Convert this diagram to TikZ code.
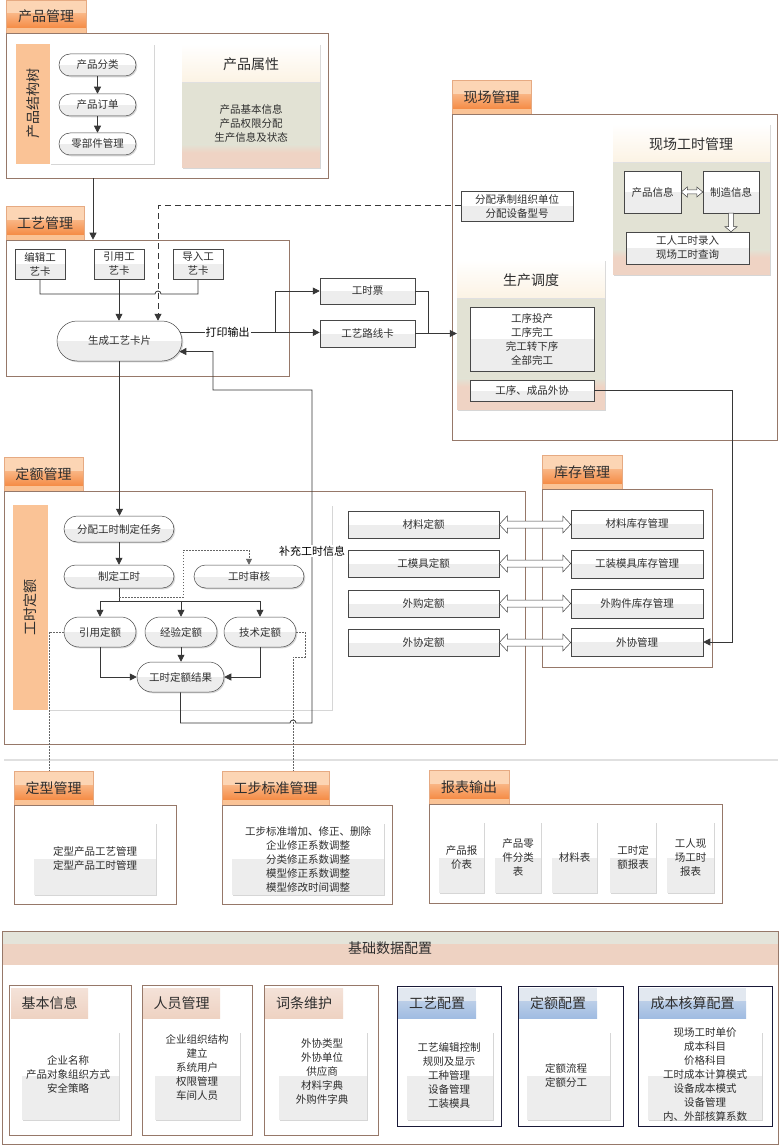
\documentclass[tikz,border=0pt]{standalone}
\usepackage{fontspec}
\setmainfont{Noto Sans CJK SC}
\usetikzlibrary{arrows.meta,shapes.misc,shadows,calc}
\definecolor{brd}{RGB}{150,120,105}
\definecolor{tablight}{RGB}{252,213,180}
\definecolor{tabdark}{RGB}{245,140,70}
\definecolor{tabbot}{RGB}{250,195,150}
\definecolor{tabedge}{RGB}{230,170,130}
\definecolor{barorange}{RGB}{250,195,150}
\definecolor{hdrcream}{RGB}{252,243,228}
\definecolor{bodygreen}{RGB}{226,226,212}
\definecolor{bodysalmon}{RGB}{239,211,196}
\definecolor{nodegrey}{RGB}{237,237,237}
\definecolor{linec}{RGB}{55,55,55}
\definecolor{navy}{RGB}{25,25,55}
\definecolor{bluedark}{RGB}{160,188,226}
\definecolor{bluelight}{RGB}{226,232,240}
\definecolor{salhdr}{RGB}{238,210,194}
\definecolor{saltop}{RGB}{244,226,216}
\definecolor{cfgtop}{RGB}{228,228,218}
\newcommand\smfont{\fontsize{10.5}{14}\selectfont}
\newcommand\hdfont{\fontsize{14}{17}\selectfont}
\newcommand\bx[7][]{\node[#1, anchor=center, align=center, inner sep=0pt, minimum width={(#4)-(#2)}, minimum height={(#5)-(#3)}] (#6) at ({((#2)+(#4))/2},{((#3)+(#5))/2}) {#7};}
\newcommand\dblh[5]{\draw[hol] let \p1=(#1), \p2=(#2) in (\x1,\y1) -- (\x1+#3pt,\y1+#4pt) -- (\x1+#3pt,\y1+#5pt) -- (\x2-#3pt,\y1+#5pt) -- (\x2-#3pt,\y1+#4pt) -- (\x2,\y1) -- (\x2-#3pt,\y1-#4pt) -- (\x2-#3pt,\y1-#5pt) -- (\x1+#3pt,\y1-#5pt) -- (\x1+#3pt,\y1-#4pt) -- cycle;}
\newcommand\arrv[5]{\draw[hol] let \p1=(#1), \p2=(#2) in (\x1-#5pt,\y1) -- (\x1-#5pt,\y2+#3pt) -- (\x1-#4pt,\y2+#3pt) -- (\x1,\y2) -- (\x1+#4pt,\y2+#3pt) -- (\x1+#5pt,\y2+#3pt) -- (\x1+#5pt,\y1) -- cycle;}
\tikzset{
 shd/.style={drop shadow={shadow xshift=1.3pt,shadow yshift=-1.3pt,fill=black!16,opacity=1}},
 mybox/.style={draw=brd, line width=0.6pt, fill=white, shd},
 mytab/.style={draw=tabedge, line width=0.4pt, font=\hdfont, path picture={
   \fill[tabbot] (path picture bounding box.north west) rectangle (path picture bounding box.south east);
   \fill[tablight] (path picture bounding box.north west) rectangle ($(path picture bounding box.north east)!0.42!(path picture bounding box.south east)$);
   \shade[top color=tabdark!45!tablight, bottom color=tabdark] ($(path picture bounding box.north west)!0.42!(path picture bounding box.south west)$) rectangle ($(path picture bounding box.north east)!0.84!(path picture bounding box.south east)$);}},
 spanel/.style={fill=bodysalmon, shd, path picture={
   \fill[bodygreen] ($(path picture bounding box.north west)+(0,38)$) rectangle ($(path picture bounding box.north east)!#1!(path picture bounding box.south east)$);
   \shade[top color=bodygreen, bottom color=bodysalmon] ($(path picture bounding box.north west)!#1!(path picture bounding box.south west)$) rectangle ($(path picture bounding box.north east)!#1!(path picture bounding box.south east)+(0,8)$);
   \shade[top color=white, bottom color=hdrcream] (path picture bounding box.north west) rectangle ($(path picture bounding box.north east)+(0,38)$);
   \draw[black!12] ($(path picture bounding box.north west)+(0,38)$) -- ($(path picture bounding box.north east)+(0,38)$);}},
 lpanel/.style={fill=white, shd, path picture={
   \fill[nodegrey] ($(path picture bounding box.north west)!0.5!(path picture bounding box.south west)$) rectangle (path picture bounding box.south east);}},
 wpanel/.style={fill=white, shd},
 obar/.style={fill=barorange},
 rbox/.style={draw=black!72, line width=0.5pt, fill=white, shd, path picture={
   \fill[nodegrey] (path picture bounding box.west) rectangle (path picture bounding box.south east);}},
 myterm/.style={rbox, rounded rectangle},
 subbox/.style={draw=brd, line width=0.7pt, fill=white, shd},
 subboxn/.style={draw=navy, line width=0.7pt, fill=white, shd},
 shdr/.style={top color=saltop, bottom color=salhdr, font=\hdfont},
 bhdr/.style={font=\hdfont, path picture={
   \fill[bluelight] (path picture bounding box.north west) rectangle (path picture bounding box.south east);
   \shade[top color=bluedark!60!bluelight, bottom color=bluedark] ($(path picture bounding box.north west)!0.45!(path picture bounding box.south west)$) rectangle (path picture bounding box.south east);}},
 cfgbox/.style={draw=brd, line width=0.6pt, fill=white, shd, path picture={
   \fill[cfgtop] (path picture bounding box.north west) rectangle ($(path picture bounding box.north east)+(0,13)$);
   \fill[salhdr] ($(path picture bounding box.north west)+(0,13)$) rectangle ($(path picture bounding box.north east)+(0,34)$);}},
 myln/.style={draw=linec, line width=0.8pt},
 myarr/.style={myln, -{Triangle[length=7pt,width=7pt]}},
 dashln/.style={draw=linec, line width=1pt, dash pattern=on 6pt off 4pt},
 dotln/.style={draw=black!60, line width=0.6pt, dash pattern=on 1.5pt off 1.5pt},
 hol/.style={draw=black!75, line width=0.5pt, fill=white},
 lbl/.style={fill=white, inner sep=1pt, text=black, font=\fontsize{11}{13}\selectfont},
}
\begin{document}
\begin{tikzpicture}[x=1pt,y=-1pt,font=\smfont, every node/.append style={text=black!82}]
\useasboundingbox[fill=white] (0,0) rectangle (783,1147);

% ===== 产品管理 =====
\bx[mytab]{6}{0}{86}{33}{pmtab}{产品管理}
\bx[mybox]{6}{33}{328}{178}{pmbox}{}
\bx[wpanel]{50}{44}{154}{164}{pmpanel}{}
\bx[obar]{16}{44}{50}{164}{pmbar}{}
\node[rotate=90, font=\hdfont] at (pmbar) {产品结构树};
\bx[myterm]{59}{54}{136}{76}{pc1}{产品分类}
\bx[myterm]{59}{94}{136}{116}{pc2}{产品订单}
\bx[myterm]{59}{133}{136}{155}{pc3}{零部件管理}
\draw[myarr] (pc1.south) -- (pc2.north);
\draw[myarr] (pc2.south) -- (pc3.north);
\bx[spanel=0.81]{182}{44}{320}{168}{pattr}{}
\node[font=\hdfont] at (251,64) {产品属性};
\node[align=center] at (251,123) {产品基本信息\\产品权限分配\\生产信息及状态};

% ===== 工艺管理 =====
\bx[mytab]{6}{206}{84}{240}{gytab}{工艺管理}
\bx[mybox]{6}{240}{289}{376}{gybox}{}
\bx[rbox]{15}{249}{65}{279}{ed}{编辑工\\艺卡}
\bx[rbox]{94}{249}{144}{279}{yy}{引用工\\艺卡}
\bx[rbox]{173}{249}{223}{279}{dr}{导入工\\艺卡}
\bx[myterm]{57}{321}{182}{361}{gen}{生成工艺卡片}
\draw[myarr] (pmbox.south -| 93,0) -- (gybox.north -| 93,0);
\draw[myln] (ed.south) -- (ed.south |- 0,294) -- (155,294) arc[start angle=180,end angle=360,radius=3] -- (dr.south |- 0,294) -- (dr.south);
\draw[myarr] (yy.south) -- (yy.south |- gen.north);

\bx[rbox]{320}{278}{415}{304}{tp}{工时票}
\bx[rbox]{320}{320}{415}{347}{rc}{工艺路线卡}
\coordinate (sp) at (gen.8 -| 275,0);
\draw[myln] (gen.8) -- node[lbl]{打印输出} (sp);
\draw[myarr] (sp) |- (tp.west);
\draw[myarr] (sp) -- (sp -| rc.west);

% ===== 现场管理 =====
\bx[mytab]{452}{80}{531}{114}{xctab}{现场管理}
\bx[mybox]{452}{114}{777}{440}{xcbox}{}
\bx[rbox]{461}{191}{573}{221}{fp}{分配承制组织单位\\分配设备型号}
\bx[spanel=0.83]{613}{124}{770}{275}{gsm}{}
\node[font=\hdfont] at (691,144) {现场工时管理};
\bx[rbox]{624}{171}{681}{213}{cpxx}{产品信息}
\bx[rbox]{703}{171}{759}{213}{zzxx}{制造信息}
\bx[rbox]{626}{232}{749}{264}{grgs}{工人工时录入\\现场工时查询}
\dblh{cpxx.east}{zzxx.west}{6}{5}{2}
\arrv{zzxx.south}{zzxx.south |- grgs.north}{5}{6}{2.5}
\bx[spanel=0.79]{457}{260}{605}{410}{sched}{}
\node[font=\hdfont] at (531,280) {生产调度};
\bx[rbox]{470}{307}{594}{371}{sc1}{工序投产\\工序完工\\完工转下序\\全部完工}
\bx[rbox]{470}{380}{594}{401}{sc2}{工序、成品外协}
\draw[myln] (tp.east) -| (rc.east -| 428,0);
\draw[myarr] (rc.east) -- (rc.east -| sched.west);
\draw[dashln, -{Triangle[length=7pt,width=7pt]}] (fp.west) -- (fp.west -| 158,0) -- (gen.north -| 158,0);

% ===== 定额管理 =====
\bx[mytab]{4}{457}{83}{491}{detab}{定额管理}
\bx[mybox]{4}{491}{525}{744}{debox}{}
\bx[wpanel]{48}{505}{332}{710}{depanel}{}
\bx[obar]{13}{505}{48}{710}{debar}{}
\node[rotate=90, font=\hdfont] at (debar) {工时定额};
\bx[myterm]{64}{516}{174}{542}{t1}{分配工时制定任务}
\bx[myterm]{64}{565}{174}{588}{t2}{制定工时}
\bx[myterm]{194}{565}{304}{588}{t3}{工时审核}
\bx[myterm]{64}{617}{136}{647}{t4}{引用定额}
\bx[myterm]{145}{617}{217}{647}{t5}{经验定额}
\bx[myterm]{224}{617}{296}{647}{t6}{技术定额}
\bx[myterm]{137}{662}{224}{692}{t7}{工时定额结果}
\draw[myarr] (gen.south) -- (gen.south |- t1.north);
\draw[myarr] (t1.south) -- (t1.south |- t2.north);
\draw[myln] (t2.south) -- (t2.south |- 0,601);
\draw[myln] (t4.north |- 0,601) -- (t6.north |- 0,601);
\draw[myarr] (t4.north |- 0,601) -- (t4.north);
\draw[myarr] (t5.north |- 0,601) -- (t5.north);
\draw[myarr] (t6.north |- 0,601) -- (t6.north);
\draw[dotln, -{Triangle[length=6pt,width=6pt]}] (t2.south |- 0,597) -- (183,597) -- (183,550) -| (t3.north);
\draw[myarr] (t5.south) -- (t5.south |- t7.north);
\draw[myarr] (t4.south) |- (t7.west);
\draw[myarr] (t6.south) |- (t7.east);

% ===== 库存管理 =====
\bx[mytab]{542}{455}{622}{489}{kctab}{库存管理}
\bx[mybox]{542}{489}{712}{667}{kcbox}{}
\bx[rbox]{348}{511}{499}{538}{q1}{材料定额}
\bx[rbox]{348}{550}{499}{577}{q2}{工模具定额}
\bx[rbox]{348}{590}{499}{617}{q3}{外购定额}
\bx[rbox]{348}{629}{499}{656}{q4}{外协定额}
\bx[rbox]{571}{510}{703}{538}{k1}{材料库存管理}
\bx[rbox]{571}{550}{703}{578}{k2}{工装模具库存管理}
\bx[rbox]{571}{589}{703}{618}{k3}{外购件库存管理}
\bx[rbox]{571}{628}{703}{656}{wx}{外协管理}
\dblh{q1.east}{k1.west}{8}{8.5}{3.5}
\dblh{q2.east}{k2.west}{8}{8.5}{3.5}
\dblh{q3.east}{k3.west}{8}{8.5}{3.5}
\dblh{q4.east}{wx.west}{8}{8.5}{3.5}
\draw[myarr] (sc2.east) -| ($(wx.east)+(29,0)$) -- (wx.east);

% return line
\draw[myarr] (t7.south) -- (t7.south |- 0,723) -- (290,723) arc[start angle=180,end angle=360,radius=3] -- (312,723) -- (312,390) -- (213,390) |- (gen.-10);
\node[lbl] at (312,551) {补充工时信息};

% separator
\draw[black!12, line width=2.5pt] (4,760) -- (778,760);

% ===== 定型管理 =====
\bx[mytab]{14}{771}{93}{805}{dxtab}{定型管理}
\bx[mybox]{14}{805}{176}{904}{dxbox}{}
\bx[lpanel]{34}{823}{156}{895}{dxp}{定型产品工艺管理\\定型产品工时管理}
\draw[dotln] (t4.west) -- (t4.west -| 49,0) -- (dxtab.north -| 49,0);

% ===== 工步标准管理 =====
\bx[mytab]{222}{771}{329}{805}{gbtab}{工步标准管理}
\bx[mybox]{222}{805}{392}{904}{gbbox}{}
\bx[lpanel]{232}{823}{384}{895}{gbp}{工步标准增加、修正、删除\\企业修正系数调整\\分类修正系数调整\\模型修正系数调整\\模型修改时间调整}
\draw[dotln] (t6.east) -- (t6.east -| 305,0) -- (305,657) -- (293,657) -- (gbtab.north -| 293,0);

% ===== 报表输出 =====
\bx[mytab]{429}{770}{509}{804}{bbtab}{报表输出}
\bx[mybox]{429}{804}{722}{903}{bbbox}{}
\bx[lpanel]{439}{822}{484}{893}{b1}{产品报\\价表}
\bx[lpanel]{495}{822}{541}{893}{b2}{产品零\\件分类\\表}
\bx[lpanel]{552}{822}{597}{893}{b3}{材料表}
\bx[lpanel]{610}{822}{656}{893}{b4}{工时定\\额报表}
\bx[lpanel]{667}{822}{714}{893}{b5}{工人现\\场工时\\报表}

% ===== 基础数据配置 =====
\bx[cfgbox]{2}{931}{778}{1144}{cfg}{}
\node[font=\hdfont] at (390,948) {基础数据配置};

\bx[subbox]{9}{985}{131}{1135}{s1}{}
\bx[shdr]{11}{988}{88}{1018}{s1h}{基本信息}
\bx[lpanel]{22}{1032}{119}{1120}{s1p}{}
\node[align=center] at (68,1074) {企业名称\\产品对象组织方式\\安全策略};

\bx[subbox]{142}{985}{252}{1135}{s2}{}
\bx[shdr]{143}{988}{220}{1018}{s2h}{人员管理}
\bx[lpanel]{155}{1032}{240}{1120}{s2p}{}
\node[align=center] at (197,1067) {企业组织结构\\建立\\系统用户\\权限管理\\车间人员};

\bx[subbox]{264}{985}{378}{1135}{s3}{}
\bx[shdr]{265}{988}{343}{1018}{s3h}{词条维护}
\bx[lpanel]{279}{1032}{367}{1120}{s3p}{}
\node[align=center] at (322,1071) {外协类型\\外协单位\\供应商\\材料字典\\外购件字典};

\bx[subboxn]{397}{986}{501}{1126}{s4}{}
\bx[bhdr]{398}{988}{476}{1018}{s4h}{工艺配置}
\bx[lpanel]{407}{1032}{493}{1120}{s4p}{}
\node[align=center] at (449,1075) {工艺编辑控制\\规则及显示\\工种管理\\设备管理\\工装模具};

\bx[subboxn]{518}{986}{623}{1126}{s5}{}
\bx[bhdr]{519}{988}{597}{1018}{s5h}{定额配置}
\bx[lpanel]{527}{1032}{610}{1120}{s5p}{}
\node[align=center] at (566,1075) {定额流程\\定额分工};

\bx[subboxn]{638}{986}{772}{1126}{s6}{}
\bx[bhdr]{639}{988}{746}{1018}{s6h}{成本核算配置}
\bx[lpanel]{648}{1032}{762}{1120}{s6p}{}
\node[align=center] at (705,1075) {现场工时单价\\成本科目\\价格科目\\工时成本计算模式\\设备成本模式\\设备管理\\内、外部核算系数};
\end{tikzpicture}
\end{document}
